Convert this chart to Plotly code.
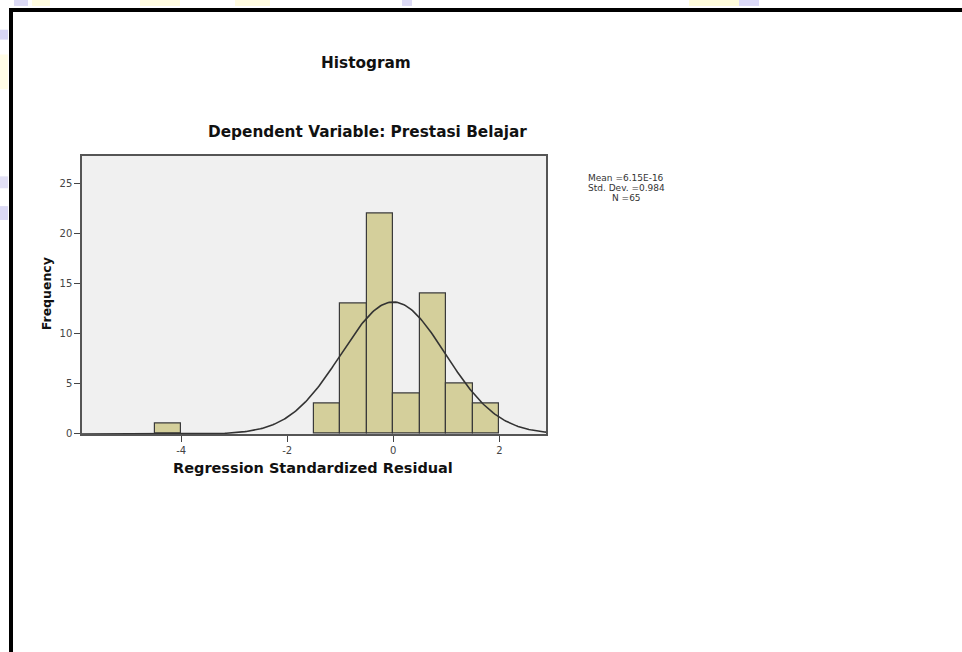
import numpy as np
import plotly.graph_objects as go

# histogram bins (left edges) and counts
bin_left = [-4.5, -1.5, -1.0, -0.5, 0.0, 0.5, 1.0, 1.5]
counts = [1, 3, 13, 22, 4, 14, 5, 3]
bin_width = 0.5

# summary stats shown in the chart
mean = 6.15e-16
std_dev = 0.984
n_obs = 65

W, H = 962, 652
FONT = "DejaVu Sans, Verdana, sans-serif"

centers = [b + bin_width / 2 for b in bin_left]

# SPSS normal curve: N * bin width * normal pdf
xc = np.linspace(-5.87, 2.88, 300)
yc = n_obs * bin_width * np.exp(-0.5 * ((xc - mean) / std_dev) ** 2) / (std_dev * np.sqrt(2 * np.pi))

fig = go.Figure()
fig.add_trace(go.Bar(x=centers, y=counts, width=bin_width,
                     marker=dict(color="#d4cf9b", line=dict(color="#3a3a3a", width=1.2))))
fig.add_trace(go.Scatter(x=xc, y=yc, mode="lines", line=dict(color="#333333", width=1.6),
                         hoverinfo="skip"))

def px(x):
    return x / W

def py(y):
    return 1 - y / H

axis_common = dict(ticks="outside", ticklen=6, tickcolor="#444", tickwidth=1.2,
                   showgrid=False, zeroline=False, showline=True, linecolor="#555",
                   linewidth=1.5, mirror=True, tickfont=dict(size=10, color="#444", family=FONT))

fig.update_layout(
    width=W, height=H,
    margin=dict(l=0, r=0, t=0, b=0),
    paper_bgcolor="white",
    plot_bgcolor="#f0f0f0",
    showlegend=False,
    bargap=0,
    font=dict(family=FONT, color="#222"),
    xaxis=dict(domain=[px(82), px(546)], range=[-5.87, 2.88],
               tickvals=[-4, -2, 0, 2], ticktext=["-4", "-2", "0", "2"], **axis_common),
    yaxis=dict(domain=[py(438), py(157)], range=[0, 27.8],
               tickvals=[0, 5, 10, 15, 20, 25], **axis_common),
)

# faint slide-background blobs outside the frame
blobs = [(14, 0, 28, 6, "#dcdaf5"), (32, 0, 50, 6, "#fffce0"), (140, 0, 180, 6, "#fffbe0"),
         (235, 0, 270, 6, "#fffbe0"), (402, 0, 412, 6, "#dcdaf5"), (689, 0, 739, 6, "#fffcdc"),
         (739, 0, 759, 6, "#dcdaf7"), (0, 30, 8, 40, "#d8d6f5"), (0, 55, 8, 90, "#fffce6"),
         (0, 178, 8, 190, "#e2e0f5"), (0, 208, 8, 222, "#dcdaf5")]
shapes = []
for x0, y0, x1, y1, c in blobs:
    shapes.append(dict(type="rect", xref="paper", yref="paper", x0=px(x0), x1=px(x1),
                       y0=py(y1), y1=py(y0), fillcolor=c, line=dict(width=0), layer="below"))
# black frame
shapes.append(dict(type="rect", xref="paper", yref="paper", x0=px(11), x1=px(975),
                   y0=py(665), y1=py(10), line=dict(color="black", width=4)))
fig.update_layout(shapes=shapes)

def note(text, x, y, size, bold=False, angle=0, color="#111"):
    fig.add_annotation(text=f"<b>{text}</b>" if bold else text, xref="paper", yref="paper",
                       x=px(x), y=py(y), showarrow=False, textangle=angle,
                       font=dict(size=size, color=color, family=FONT),
                       xanchor="center", yanchor="middle")

note("Histogram", 366, 64, 15.3, bold=True)
note("Dependent Variable: Prestasi Belajar", 367, 133, 15.3, bold=True)
note("Regression Standardized Residual", 313, 472, 14.5, bold=True)
note("Frequency", 46, 297, 12.5, bold=True, angle=-90)
note("Mean =6.15E-16", 626, 180, 9, color="#333")
note(f"Std. Dev. ={std_dev}", 626, 190, 9, color="#333")
note(f"N ={n_obs}", 626, 200, 9, color="#333")

fig.write_html("out.html", config={"displayModeBar": False},
               post_script="document.body.style.margin='0';")
